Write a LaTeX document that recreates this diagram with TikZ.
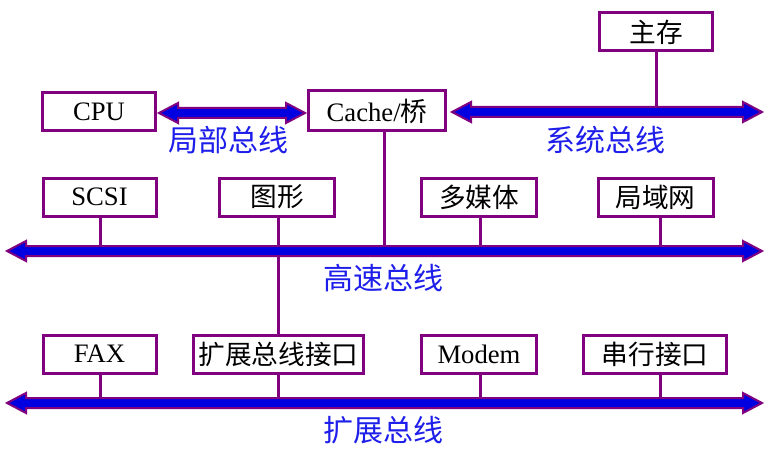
\documentclass[tikz,border=0pt]{standalone}
\usepackage{fontspec}
\setmainfont{Liberation Serif}
\newfontfamily\cjk{Noto Sans CJK SC}
\usepackage{tikz}
\definecolor{buspurple}{RGB}{128,0,128}
\definecolor{busblue}{RGB}{0,0,225}
\definecolor{labelblue}{RGB}{30,30,235}

% block arrow for a bus: left x, right x, y
\newcommand{\busarrow}[3]{%
  \filldraw[busbody] (#1,#3) -- ++(19,-10) -- ++(0,5) -- (#2-19,#3-5)
    -- ++(0,-5) -- (#2,#3) -- ++(-19,10) -- ++(0,-5) -- (#1+19,#3+5)
    -- ++(0,5) -- cycle;}

\begin{document}
\begin{tikzpicture}
      [x=0.75pt,y=-0.75pt,
      box/.style={draw=buspurple,line width=2.25pt,fill=white,inner sep=0pt,
        minimum width=84.75pt,minimum height=28.5pt,font=\fontsize{20}{24}\selectfont},
      busbody/.style={fill=busblue,draw=buspurple,line width=1.5pt,line join=miter},
      stub/.style={draw=buspurple,line width=2.25pt},
      buslabel/.style={text=labelblue,inner sep=0pt,font=\cjk\fontsize{22.5}{26}\selectfont}]
  \useasboundingbox (0,0) rectangle (768,453);
  % boxes
  \node[box] (mem) at (656,32) {\cjk 主存};
  \node[box] (cpu) at (99,112) {CPU};
  \node[box,minimum width=102.75pt,minimum height=30pt] (cache) at (377,111) {Cache/{\cjk 桥}};
  \node[box] (scsi) at (99.5,197) {SCSI};
  \node[box,minimum width=86.25pt] (graph) at (277,197) {\cjk 图形};
  \node[box,minimum width=86.25pt] (media) at (479,197) {\cjk 多媒体};
  \node[box,minimum width=86.25pt] (lan) at (655.5,197) {\cjk 局域网};
  \node[box] (fax) at (99.5,354) {FAX};
  \node[box,minimum width=127.5pt] (expif) at (278.5,354) {\cjk 扩展总线接口};
  \node[box,minimum width=86.25pt] (modem) at (479,354) {Modem};
  \node[box,minimum width=107.25pt] (serial) at (655,354) {\cjk 串行接口};
  % taps on the buses
  \coordinate (sys) at (656,112);
  \coordinate (hs1) at (100,251);
  \coordinate (hs2) at (278,251);
  \coordinate (hs3) at (384,251);
  \coordinate (hs4) at (480,251);
  \coordinate (hs5) at (660,251);
  \coordinate (ex1) at (100,403);
  \coordinate (ex2) at (278,403);
  \coordinate (ex3) at (480,403);
  \coordinate (ex4) at (660,403);
  \draw[stub] (mem.south -| sys) -- (sys);
  \foreach \b/\t in {scsi/hs1,graph/hs2,cache/hs3,media/hs4,lan/hs5,
                     fax/ex1,expif/ex2,modem/ex3,serial/ex4}
    \draw[stub] (\b.south -| \t) -- (\t);
  \draw[stub] (hs2) -- (expif.north -| hs2);
  % buses
  \busarrow{159}{305}{113}
  \busarrow{452}{762}{112}
  \busarrow{7}{762}{251}
  \busarrow{7}{762}{403}
  \node[buslabel] (local) at (228,140) {局部总线};
  \node[buslabel] (system) at (605,140) {系统总线};
  \node[buslabel] (fast) at (383,278) {高速总线};
  \node[buslabel] (ext) at (383,430) {扩展总线};
\end{tikzpicture}
\end{document}
